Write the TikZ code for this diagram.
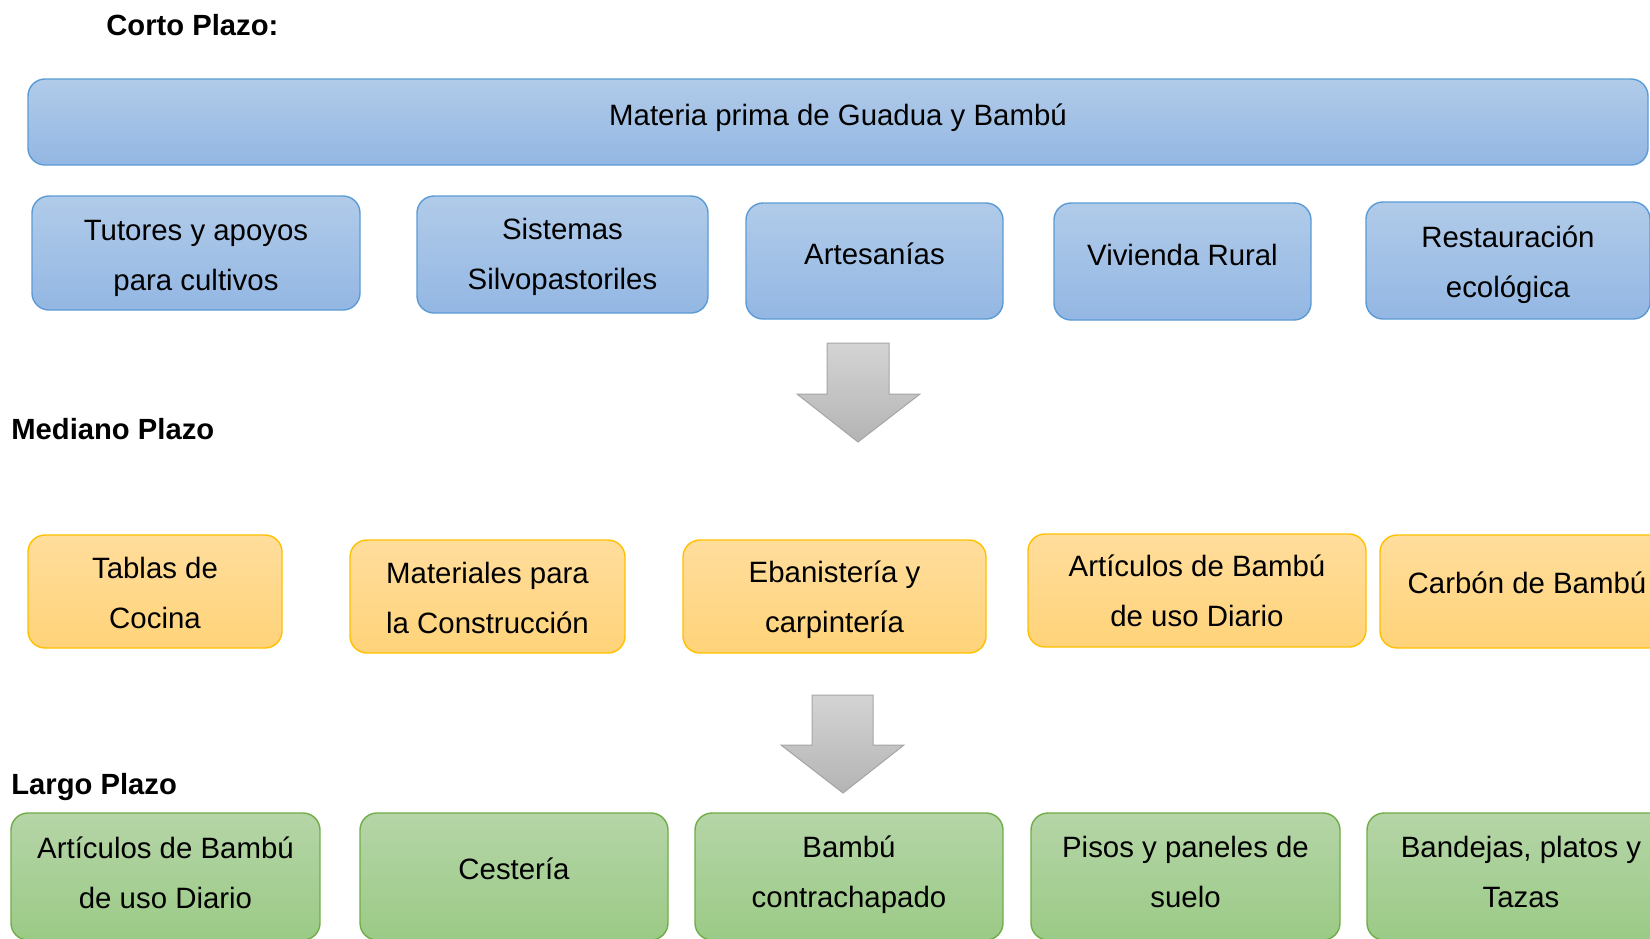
\documentclass[tikz,border=0pt]{standalone}
\usepackage{fontspec}
\setmainfont{Liberation Sans}
\definecolor{bTop}{HTML}{B1CBE9}
\definecolor{bBot}{HTML}{93B7E3}
\definecolor{bLine}{HTML}{5B9BD5}
\definecolor{oTop}{HTML}{FFDD9C}
\definecolor{oBot}{HTML}{FFD379}
\definecolor{oLine}{HTML}{FFC000}
\definecolor{gTop}{HTML}{B5D5A7}
\definecolor{gBot}{HTML}{9BCA86}
\definecolor{gLine}{HTML}{70AD47}
\definecolor{aTop}{HTML}{D4D4D4}
\definecolor{aBot}{HTML}{B4B4B4}
\definecolor{aLine}{HTML}{A5A5A5}
\tikzset{
  x=0.5pt, y=-0.5pt,
  boxbase/.style={rounded corners=8.5pt, line width=0.7pt, inner sep=0pt},
  bluebox/.style={boxbase, draw=bLine, top color=bTop, bottom color=bBot},
  orangebox/.style={boxbase, draw=oLine, top color=oTop, bottom color=oBot},
  greenbox/.style={boxbase, draw=gLine, top color=gTop, bottom color=gBot},
  boxtext/.style={align=center, inner sep=0pt, font=\fontsize{14.7}{25}\selectfont},
  heading/.style={anchor=base west, inner sep=0pt, font=\fontsize{14.6}{17}\selectfont\bfseries},
  downarrow/.style={draw=aLine, line width=0.5pt, top color=aTop, bottom color=aBot, line join=miter},
}
\begin{document}
\begin{tikzpicture}
\useasboundingbox (0,0) rectangle (1650,938);
\clip (0,0) rectangle (1650,938);

% headings
\node[heading] (hcorto) at (106,35) {Corto Plazo:};
\node[heading] (hmed) at (11,439) {Mediano Plazo};
\node[heading] (hlargo) at (11,794) {Largo Plazo};

% top bar
\node[bluebox, minimum width=810pt, minimum height=43pt] (mat) at (838,122) {};
\node[boxtext, yshift=2.1pt] (matt) at (mat.center) {Materia prima de Guadua y Bambú};

% row 1
\node[bluebox, minimum width=164pt, minimum height=57pt] (b1) at (196,253) {};
\node[boxtext, yshift=-2.6pt] (b1t) at (b1.center) {Tutores y apoyos\\para cultivos};
\node[bluebox, minimum width=145.5pt, minimum height=58.5pt] (b2) at (562.5,254.5) {};
\node[boxtext, yshift=-1.1pt] (b2t) at (b2.center) {Sistemas\\Silvopastoriles};
\node[bluebox, minimum width=128.5pt, minimum height=58pt] (b3) at (874.5,261) {};
\node[boxtext, yshift=3.7pt] (b3t) at (b3.center) {Artesanías};
\node[bluebox, minimum width=128.5pt, minimum height=58.5pt] (b4) at (1182.5,261.5) {};
\node[boxtext, yshift=3.2pt] (b4t) at (b4.center) {Vivienda Rural};
\node[bluebox, minimum width=142pt, minimum height=58.5pt] (b5) at (1508,260.5) {};
\node[boxtext, yshift=-2.1pt] (b5t) at (b5.center) {Restauración\\ecológica};

% arrow 1
\path[downarrow] (827,343) -- (889,343) -- (889,394) -- (920,394) -- (858,442) -- (797,394) -- (827,394) -- cycle;

% row 2
\node[orangebox, minimum width=127pt, minimum height=56.5pt] (o1) at (155,591.5) {};
\node[boxtext, yshift=-0.8pt] (o1t) at (o1.center) {Tablas de\\Cocina};
\node[orangebox, minimum width=137.5pt, minimum height=56.5pt] (o2) at (487.5,596.5) {};
\node[boxtext, yshift=-0.8pt] (o2t) at (o2.center) {Materiales para\\la Construcción};
\node[orangebox, minimum width=151.5pt, minimum height=56.5pt] (o3) at (834.5,596.5) {};
\node[boxtext, yshift=-1.8pt] (o3t) at (o3.center) {Ebanistería y\\carpintería};
\node[orangebox, minimum width=169pt, minimum height=56.5pt] (o4) at (1197,590.5) {};
\node[boxtext, yshift=-0.2pt] (o4t) at (o4.center) {Artículos de Bambú\\de uso Diario};
\node[orangebox, minimum width=147pt, minimum height=56.5pt] (o5) at (1527,591.5) {};
\node[boxtext, yshift=4.2pt] (o5t) at (o5.center) {Carbón de Bambú};

% arrow 2
\path[downarrow] (812,695) -- (873,695) -- (873,745) -- (904,745) -- (843,793) -- (781,745) -- (812,745) -- cycle;

% row 3
\node[greenbox, minimum width=154.5pt, minimum height=63.5pt] (g1) at (165.5,876.5) {};
\node[boxtext, yshift=1.8pt] (g1t) at (g1.center) {Artículos de Bambú\\de uso Diario};
\node[greenbox, minimum width=154pt, minimum height=63.5pt] (g2) at (514,876.5) {};
\node[boxtext, yshift=3.7pt] (g2t) at (g2.center) {Cestería};
\node[greenbox, minimum width=154pt, minimum height=63.5pt] (g3) at (849,876.5) {};
\node[boxtext, yshift=1.1pt] (g3t) at (g3.center) {Bambú\\contrachapado};
\node[greenbox, minimum width=154.5pt, minimum height=63.5pt] (g4) at (1185.5,876.5) {};
\node[boxtext, yshift=2.1pt] (g4t) at (g4.center) {Pisos y paneles de\\suelo};
\node[greenbox, minimum width=154pt, minimum height=63.5pt] (g5) at (1521,876.5) {};
\node[boxtext, yshift=2.1pt] (g5t) at (g5.center) {Bandejas, platos y\\Tazas};
\end{tikzpicture}
\end{document}
